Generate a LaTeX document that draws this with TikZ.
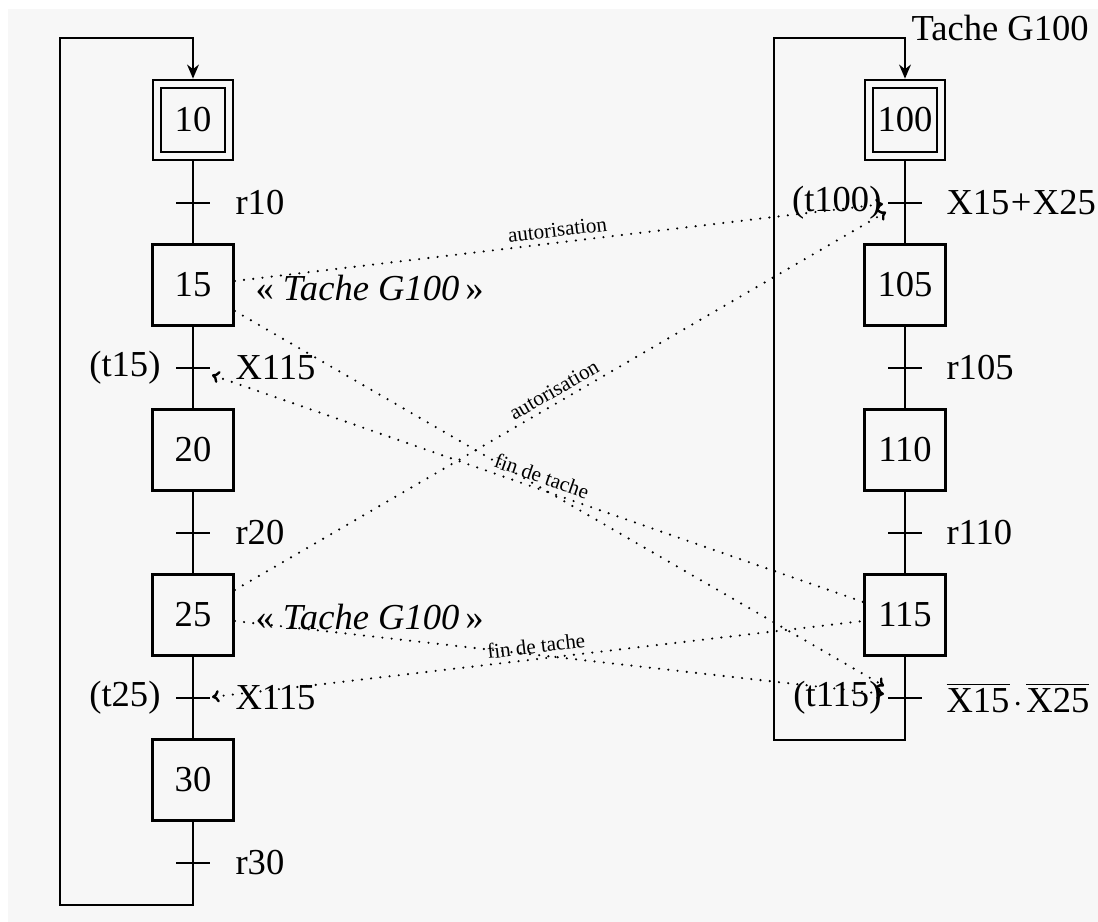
\documentclass[tikz,border=0pt]{standalone}
\usepackage{fontspec}
\setmainfont{Liberation Serif}
\usetikzlibrary{arrows.meta,calc}
\definecolor{paper}{HTML}{F7F7F7}
\tikzset{
  stepbox/.style={draw, line width=1pt, minimum width=1.01cm, minimum height=1.01cm, inner sep=0pt, fill=paper},
  initstep/.style={draw, line width=0.9pt, double=paper, double distance=2pt, outer sep=1.9pt,
    minimum width=0.9cm, minimum height=0.9cm, inner sep=0pt},
  link/.style={line width=0.7pt},
  loopback/.style={link, -{Stealth[length=5pt,width=4.2pt]}},
  tick/.style={line width=0.8pt},
  signal/.style={line width=0.85pt, dash pattern=on 0pt off 3.3pt, line cap=round},
  sigto/.style={signal, -{To[length=2.6pt,width=4.4pt]}},
  sigfrom/.style={signal, {To[length=2.6pt,width=4.4pt]}-},
  cond/.style={inner sep=0pt, anchor=west},
  tname/.style={inner sep=0pt, anchor=east},
  small/.style={font=\fontsize{7.5}{8.5}\selectfont, inner sep=1.6pt},
}
\begin{document}
\begin{tikzpicture}[x=0.0125cm, y=-0.0125cm, font=\fontsize{13}{15}\selectfont]
\useasboundingbox (0,0) rectangle (1098,922);
\fill[paper] (8,9) rectangle (1098,922);

% ---- main sequence (left) ----
\node[initstep] (S10) at (193,120) {10};
\node[stepbox]  (S15) at (193,285) {15};
\node[stepbox]  (S20) at (193,450) {20};
\node[stepbox]  (S25) at (193,615) {25};
\node[stepbox]  (S30) at (193,780) {30};
\coordinate (T10) at (193,203);
\coordinate (T15) at (193,368);
\coordinate (T20) at (193,533);
\coordinate (T25) at (193,698);
\coordinate (T30) at (193,863);
\coordinate (Lb) at (60,905);
\coordinate (Lt) at (60,38);

\foreach \a/\b in {S10/S15,S15/S20,S20/S25,S25/S30}
  \draw[link] (\a) -- (\b);
\draw[loopback] (S30) -- (T30) |- (Lb) -- (Lt) -| (S10);

% ---- task G100 (right) ----
\node[initstep] (S100) at (905,120) {100};
\node[stepbox]  (S105) at (905,285) {105};
\node[stepbox]  (S110) at (905,450) {110};
\node[stepbox]  (S115) at (905,615) {115};
\coordinate (T100) at (905,203);
\coordinate (T105) at (905,368);
\coordinate (T110) at (905,533);
\coordinate (T115) at (905,698);
\coordinate (Rb) at (774,740);
\coordinate (Rt) at (774,38);

\foreach \a/\b in {S100/S105,S105/S110,S110/S115}
  \draw[link] (\a) -- (\b);
\draw[loopback] (S115) -- (T115) |- (Rb) -- (Rt) -| (S100);

\node[cond] (title) at (911,28) {Tache G100};

% transition bars
\foreach \t in {T10,T15,T20,T25,T30,T100,T105,T110,T115}
  \draw[tick] ($(\t)+(-17,0)$) -- ($(\t)+(17,0)$);

% receptivities
\node[cond] (c10) at ($(T10)+(42,0)$) {r10};
\node[cond] (c15) at ($(T15)+(42,0)$) {X115};
\node[cond] (c20) at ($(T20)+(42,0)$) {r20};
\node[cond] (c25) at ($(T25)+(42,0)$) {X115};
\node[cond] (c30) at ($(T30)+(42,0)$) {r30};
\node[cond] (c100) at ($(T100)+(41,0)$) {X15\kern0.5pt+\kern0.5pt X25};
\node[cond] (c105) at ($(T105)+(41,0)$) {r105};
\node[cond] (c110) at ($(T110)+(41,0)$) {r110};
\node[cond] (c115) at ($(T115)+(41,0)$) {$\overline{\mbox{X15}}\mskip2mu{\cdot}\mskip2mu\overline{\mbox{X25}}$};

% transition names
\node[tname] (n15) at ($(T15)+(-32,0)$) {(t15)};
\node[tname] (n25) at ($(T25)+(-32,0)$) {(t25)};
\node[tname] (n100) at ($(T100)+(-23,0)$) {(t100)};
\node[tname] (n115) at ($(T115)+(-23,0)$) {(t115)};

% actions
\node[cond] (a15) at (255,288) {«~\textit{Tache G100}\,»};
\node[cond] (a25) at (255,617) {«~\textit{Tache G100}\,»};

% synchronisation signals
\coordinate (P100a) at (883,204);
\coordinate (P100b) at (886,212);
\coordinate (P115a) at (884,686);
\coordinate (P115b) at (884,694);
\coordinate (P15) at (212,375);
\coordinate (P25) at (212,697);

\draw[sigto] ($(S15.east)+(0,-4)$) -- (P100a)
  node[midway, sloped, above, small] (l1) {autorisation};
\draw[sigto] ($(S25.east)+(0,-25)$) -- (P100b)
  node[midway, sloped, above, small] (l2) {autorisation};
\draw[sigfrom] (P15) -- ($(S115.west)+(0,-13)$)
  node[midway, sloped, above, small] (l3) {fin de tache};
\draw[sigfrom] (P25) -- ($(S115.west)+(0,6)$)
  node[midway, sloped, above, small] (l4) {fin de tache};
\draw[sigto] ($(S15.east)+(0,26)$) -- (P115a);
\draw[sigto] ($(S25.east)+(0,6)$) -- (P115b);
\end{tikzpicture}
\end{document}
